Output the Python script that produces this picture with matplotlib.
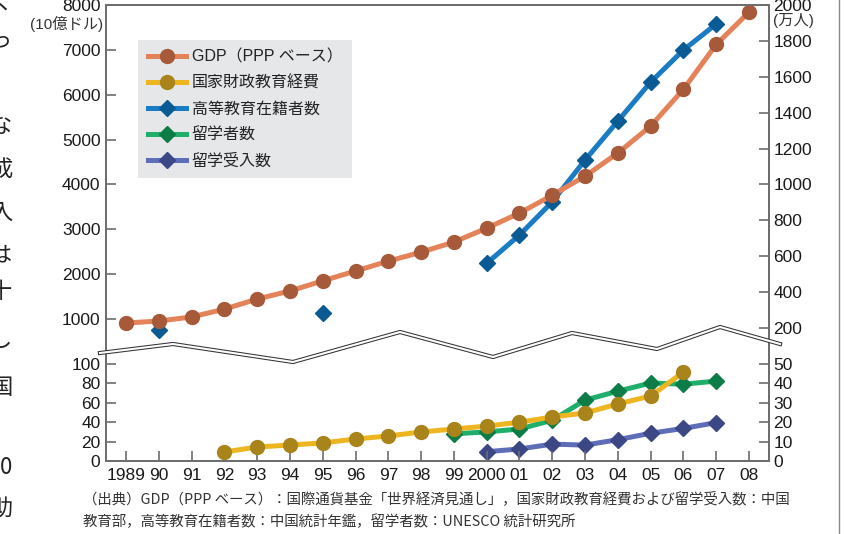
import matplotlib
matplotlib.use("Agg")
import matplotlib.pyplot as plt
from matplotlib.lines import Line2D

plt.rcParams['font.family'] = ['Liberation Sans', 'Noto Sans CJK JP', 'DejaVu Sans']

years = list(range(1989, 2009))
year_labels = ['1989', '90', '91', '92', '93', '94', '95', '96', '97', '98', '99',
               '2000', '01', '02', '03', '04', '05', '06', '07', '08']

# GDP (PPP, 10億ドル) - left axis, upper panel
gdp = [910, 955, 1045, 1220, 1445, 1625, 1850, 2070, 2290, 2490,
       2715, 3025, 3360, 3760, 4185, 4700, 5300, 6120, 7120, 7840]

# 高等教育在籍者数 (万人) - right axis, upper panel
enroll_years = [1990, 1995, 2000, 2001, 2002, 2003, 2004, 2005, 2006, 2007]
enroll = [190, 285, 560, 718, 903, 1136, 1353, 1570, 1749, 1894]

# 国家財政教育経費 - left axis, lower panel
exp_years = list(range(1992, 2007))
exp = [9.3, 14.4, 16.5, 18.6, 22.7, 25.8, 29.9, 33, 36, 40, 45.4, 49.5, 58.8, 67, 91.7]

# 留学者数 (万人) - right axis, lower panel
abroad_years = list(range(1999, 2008))
abroad = [14, 15, 16.5, 21, 31.4, 36, 40.2, 39.6, 41.2]

# 留学受入数 (万人) - right axis, lower panel
incoming_years = list(range(2000, 2008))
incoming = [4.8, 6.2, 8.7, 8.2, 11.0, 14.3, 16.8, 19.8]

labels = ['GDP（PPP ベース）', '国家財政教育経費', '高等教育在籍者数', '留学者数', '留学受入数']
line_colors = ['#e4835a', '#edb520', '#1a7cc4', '#1faf6a', '#5e6db8']
marker_colors = ['#a65a3a', '#a8841a', '#0a5a94', '#0d7d47', '#3c4785']

W, H = 845, 534
fig = plt.figure(figsize=(W / 100, H / 100), dpi=100)

def fx(px):
    return px / W

def fy(py):
    return 1 - py / H

ax_top = fig.add_axes([fx(106), fy(352), fx(769) - fx(106), fy(5) - fy(352)])
ax_bot = fig.add_axes([fx(106), fy(461), fx(769) - fx(106), fy(352) - fy(461)])
ax_top2 = ax_top.twinx()
ax_bot2 = ax_bot.twinx()

# left-axis series drawn above right-axis series
for a, a2 in [(ax_top, ax_top2), (ax_bot, ax_bot2)]:
    a.set_zorder(a2.get_zorder() + 1)
    a.patch.set_visible(False)

lw = 3.6
h_gdp, = ax_top.plot(years, gdp, color=line_colors[0], lw=lw, marker='o', ms=10,
                     mfc=marker_colors[0], mec=marker_colors[0], label=labels[0])
cut = enroll_years.index(2000)
ax_top2.plot(enroll_years[cut:], enroll[cut:], color=line_colors[2], lw=lw, zorder=2)
ax_top2.plot(enroll_years, enroll, ls='none', marker='D', ms=8,
             mfc=marker_colors[2], mec=marker_colors[2], zorder=3)
h_enr = Line2D([], [], color=line_colors[2], lw=lw, marker='D', ms=8,
               mfc=marker_colors[2], mec=marker_colors[2])

h_exp, = ax_bot.plot(exp_years, exp, color=line_colors[1], lw=lw, marker='o', ms=10,
                     mfc=marker_colors[1], mec=marker_colors[1])
h_abr, = ax_bot2.plot(abroad_years, abroad, color=line_colors[3], lw=lw, marker='D', ms=8,
                      mfc=marker_colors[3], mec=marker_colors[3])
h_inc, = ax_bot2.plot(incoming_years, incoming, color=line_colors[4], lw=lw, marker='D', ms=8,
                      mfc=marker_colors[4], mec=marker_colors[4])

xlim = (1988.39, 2008.61)
spine_c = '#6d6d6d'
for a in [ax_top, ax_bot, ax_top2, ax_bot2]:
    a.set_xlim(*xlim)
    for s in a.spines.values():
        s.set_color(spine_c)
        s.set_linewidth(1.3)
    a.tick_params(axis='y', direction='in', length=7, width=1.2, color=spine_c,
                  labelsize=12.5, pad=4, labelcolor='#1a1a1a')

ax_top.set_ylim(264.4, 8000)
ax_top2.set_ylim(264.4 / 4, 2000)
ax_top.set_yticks(range(1000, 8001, 1000))
ax_top2.set_yticks(range(200, 2001, 200))
ax_bot.set_ylim(0, 112.4)
ax_bot2.set_ylim(0, 56.2)
ax_bot.set_yticks(range(0, 101, 20))
ax_bot2.set_yticks(range(0, 51, 10))
ax_top2.tick_params(axis='y', pad=3)
ax_bot2.tick_params(axis='y', pad=3)

for a in [ax_top, ax_top2]:
    a.spines['bottom'].set_visible(False)
    a.tick_params(axis='x', bottom=False, labelbottom=False)
for a in [ax_bot, ax_bot2]:
    a.spines['top'].set_visible(False)
ax_bot.set_xticks(years)
ax_bot.set_xticklabels(year_labels)
ax_bot.tick_params(axis='x', direction='in', length=7, width=1.2, color=spine_c,
                   labelsize=12.5, pad=5, labelcolor='#1a1a1a')
ax_bot2.tick_params(axis='x', bottom=False, labelbottom=False)

leg = ax_top.legend([h_gdp, h_exp, h_enr, h_abr, h_inc], labels, loc='upper left',
                    bbox_to_anchor=(fx(138), fy(40)), bbox_transform=fig.transFigure,
                    frameon=True, fancybox=False, facecolor='#e6e7e9', edgecolor='none',
                    framealpha=1, fontsize=11.5, handlelength=2.4, handletextpad=0.35,
                    labelspacing=0.68, borderpad=0.6, borderaxespad=0)
for t in leg.get_texts():
    t.set_color('#222222')

# axis break zigzag (double line)
zig = [(100, 353), (173, 344), (293, 362), (400, 332), (493, 357),
       (572, 333), (657, 349), (720, 327), (780, 344)]
zx = [fx(p[0]) for p in zig]
zy = [fy(p[1]) for p in zig]
fig.add_artist(Line2D(zx, zy, transform=fig.transFigure, color='#333333', lw=3.0, zorder=20))
fig.add_artist(Line2D(zx, zy, transform=fig.transFigure, color='white', lw=1.5, zorder=21))

# unit labels
fig.text(fx(103), fy(24), '(10億ドル)', ha='right', va='center', fontsize=11, color='#333333')
fig.text(fx(773), fy(20), '(万人)', ha='left', va='center', fontsize=11, color='#333333')

# source note
fig.text(fx(83), fy(499), '（出典）GDP（PPP ベース）：国際通貨基金「世界経済見通し」，国家財政教育経費および留学受入数：中国',
         ha='left', va='center', fontsize=10.4, color='#333333', family=['Noto Sans CJK JP'])
fig.text(fx(83), fy(522), '教育部，高等教育在籍者数：中国統計年鑑，留学者数：UNESCO 統計研究所',
         ha='left', va='center', fontsize=10.4, color='#333333', family=['Noto Sans CJK JP'])

# page fragments: neighbouring vertical text and page frame
frag_chars = ['く', 'っ', 'な', '成', '入', 'は', '十', 'し', '国', '」', '0', '助']
frag_y = [3, 40, 125, 170, 212, 255, 292, 340, 387, 428, 467, 508]
for ch, yy in zip(frag_chars, frag_y):
    fig.text(fx(12), fy(yy), ch, ha='right', va='center', fontsize=16, color='#222222',
             family=['Noto Sans CJK JP'])
fig.add_artist(Line2D([fx(839), fx(839)], [0, 1], transform=fig.transFigure,
                      color='#8a8a8a', lw=1.0))

fig.savefig('out.png', dpi=100)
